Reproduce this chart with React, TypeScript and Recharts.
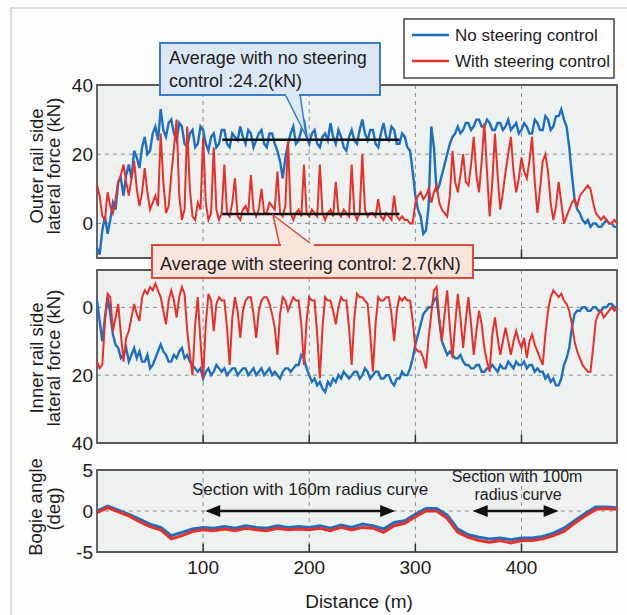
import React from 'react';
import {
  LineChart,
  Line,
  XAxis,
  YAxis,
  CartesianGrid,
  ReferenceLine,
  ReferenceArea,
} from 'recharts';

const FONT = '"Liberation Sans", Arial, Helvetica, sans-serif';
const BLUE = '#1f6fc1';
const RED = '#e8302b';
const INK = '#1c1c1c';
const PLOT_BG = '#edf2f0';
const FRAME = '#585858';
const GRID = '#8c8c8c';

const X_TICKS = [100, 200, 300, 400];

// distance (m), force panels, 2.5 m spacing
const DIST_FORCE = [
  0, 2.5, 5, 7.5, 10, 12.5, 15, 17.5, 20, 22.5, 25, 27.5, 30, 32.5, 35, 37.5, 40, 42.5, 45, 47.5,
  50, 52.5, 55, 57.5, 60, 62.5, 65, 67.5, 70, 72.5, 75, 77.5, 80, 82.5, 85, 87.5, 90, 92.5, 95, 97.5,
  100, 102.5, 105, 107.5, 110, 112.5, 115, 117.5, 120, 122.5, 125, 127.5, 130, 132.5, 135, 137.5, 140, 142.5, 145, 147.5,
  150, 152.5, 155, 157.5, 160, 162.5, 165, 167.5, 170, 172.5, 175, 177.5, 180, 182.5, 185, 187.5, 190, 192.5, 195, 197.5,
  200, 202.5, 205, 207.5, 210, 212.5, 215, 217.5, 220, 222.5, 225, 227.5, 230, 232.5, 235, 237.5, 240, 242.5, 245, 247.5,
  250, 252.5, 255, 257.5, 260, 262.5, 265, 267.5, 270, 272.5, 275, 277.5, 280, 282.5, 285, 287.5, 290, 292.5, 295, 297.5,
  300, 302.5, 305, 307.5, 310, 312.5, 315, 317.5, 320, 322.5, 325, 327.5, 330, 332.5, 335, 337.5, 340, 342.5, 345, 347.5,
  350, 352.5, 355, 357.5, 360, 362.5, 365, 367.5, 370, 372.5, 375, 377.5, 380, 382.5, 385, 387.5, 390, 392.5, 395, 397.5,
  400, 402.5, 405, 407.5, 410, 412.5, 415, 417.5, 420, 422.5, 425, 427.5, 430, 432.5, 435, 437.5, 440, 442.5, 445, 447.5,
  450, 452.5, 455, 457.5, 460, 462.5, 465, 467.5, 470, 472.5, 475, 477.5, 480, 482.5, 485, 487.5, 490,
];

// outer rail side lateral force (kN)
const TOP_NO = [
  -7, -9, -2, 2, -3, 1, 6, 4, 12, 13, 8, 14, 17, 13, 21, 19, 16, 22, 25, 20,
  21, 26, 28, 24, 33, 27, 25, 29, 30, 26, 24, 29, 28, 23, 22, 26, 27, 22, 23, 28,
  27, 23, 21, 25, 26, 22, 23, 27, 27, 23, 22, 26, 25, 24, 28, 25, 23, 27, 26, 22,
  24, 26, 27, 23, 22, 26, 26, 23, 21, 18, 13, 19, 23, 26, 28, 23, 24, 27, 30, 25,
  23, 26, 27, 23, 22, 25, 26, 24, 29, 25, 23, 27, 25, 22, 21, 25, 27, 24, 23, 27,
  30, 26, 24, 27, 27, 23, 22, 26, 29, 25, 24, 28, 27, 23, 23, 26, 25, 22, 21, 15,
  8, 4, 2, -3, -2, 5, 28, 22, 9, 11, 14, 17, 20, 23, 25, 26, 28, 26, 27, 29,
  29, 27, 28, 30, 30, 28, 28, 30, 29, 27, 27, 29, 29, 27, 28, 30, 27, 28, 29, 26,
  27, 29, 28, 26, 26, 30, 29, 27, 27, 31, 30, 27, 28, 31, 31, 33, 30, 28, 22, 14,
  7, 4, 3, 1, 0, 1, -1, 0, 0, -1, -1, 0, 1, 0, 0, -1, -1,
];
const TOP_WITH = [
  11, 8, 2, 1, 9, 5, 3, 7, 12, 14, 17, 12, 8, 13, 18, 10, 5, 9, 16, 9,
  4, 6, 8, 5, 26, 12, 3, 5, 14, 22, 30, 8, 1, 4, 28, 10, 2, 1, 6, 4,
  25, 6, 1, 3, 22, 4, 1, 3, 17, 3, 2, 6, 13, 2, 1, 4, 5, 3, 14, 4,
  2, 4, 10, 3, 3, 6, 5, 4, 15, 3, 2, 5, 24, 3, 1, 3, 4, 2, 17, 3,
  2, 4, 3, 2, 17, 3, 1, 3, 4, 2, 12, 3, 2, 4, 3, 2, 17, 3, 1, 3,
  20, 4, 2, 3, 3, 2, 7, 2, 1, 3, 2, 1, 8, 2, 1, 2, 1, 1, 0, 0,
  6, 8, 9, 7, 8, 10, 6, 9, 11, 6, 4, 3, 2, 8, 21, 12, 9, 14, 20, 12,
  11, 17, 25, 14, 9, 18, 29, 15, 2, 12, 26, 14, 4, 9, 15, 20, 25, 15, 9, 13,
  19, 15, 13, 18, 25, 12, 3, 10, 18, 20, 15, 6, 1, 5, 12, 6, 0, 2, 4, 6,
  7, 5, 8, 9, 10, 11, 10, 6, 3, 2, 1, 2, 1, 0, 0, 1, 0,
];

// inner rail side lateral force (kN)
const MID_NO = [
  -2, 4, 10, 3, -3, 2, 8, 11, 12, 15, 14, 12, 16, 14, 12, 15, 13, 16, 16, 14,
  18, 17, 15, 13, 11, 13, 14, 16, 16, 14, 15, 13, 12, 15, 14, 16, 17, 18, 19, 18,
  21, 19, 18, 20, 19, 17, 18, 19, 18, 20, 19, 18, 18, 20, 19, 18, 18, 20, 19, 18,
  20, 19, 18, 20, 19, 18, 20, 19, 20, 21, 19, 18, 18, 19, 18, 17, 17, 14, 15, 18,
  20, 22, 21, 23, 22, 24, 25, 22, 23, 21, 22, 20, 21, 19, 20, 21, 20, 19, 19, 21,
  20, 18, 19, 21, 20, 19, 19, 21, 21, 20, 20, 22, 23, 21, 21, 19, 20, 20, 18, 15,
  11, 8, 5, 2, 1, 0, 0, -2, -3, 4, 10, 12, 14, 13, 14, 15, 15, 14, 16, 17,
  17, 18, 18, 17, 17, 19, 19, 18, 18, 17, 18, 19, 17, 18, 18, 16, 17, 18, 16, 17,
  17, 16, 18, 17, 17, 19, 18, 19, 19, 21, 20, 22, 21, 23, 23, 21, 17, 15, 12, 6,
  2, 1, 1, 0, 0, 1, 1, 0, 0, 1, 1, 0, 0, -1, -1, 0, 0,
];
const MID_WITH = [
  16, 18, 17, 4, -4, -3, 7, 3, -1, 8, 16, 9, 7, 3, -1, 2, 4, -3, -5, -4,
  -6, -5, -7, -5, -3, 1, 5, -2, -5, -2, 3, -3, -6, -4, 7, 14, 20, 5, -3, 10,
  21, 5, -4, -2, 7, -1, -3, -2, -2, 6, 17, 3, -3, 1, 9, 1, -2, -3, -3, 2,
  9, 1, -2, -3, -3, -1, 2, 6, 14, 2, -3, -2, 1, -1, -3, -2, -2, 5, 17, 4,
  -3, -2, -2, 8, 21, 6, -3, -2, -2, 1, 5, 0, -3, -2, -2, 6, 17, 3, -4, -3,
  -3, -2, -1, 8, 19, 5, -3, -2, -2, -3, -3, 2, 10, 1, -3, -2, -3, -2, -2, 4,
  12, 13, 13, 15, 18, 9, 2, -5, -6, 3, 10, 2, -5, 6, 15, 5, -4, 3, 12, 4,
  -3, 5, 14, 7, 1, 5, 12, 16, 19, 8, 3, 9, 14, 10, 6, 10, 14, 10, 7, 10,
  12, 9, 15, 10, 8, 11, 13, 15, 17, 8, 1, -3, -5, -4, -3, -4, -2, -1, 1, 5,
  10, 13, 15, 17, 18, 19, 19, 12, 4, 2, 1, 3, 2, 1, 0, 1, 0,
];

// distance (m), bogie angle panel
const DIST_BOGIE = [
  0, 10, 20, 30, 40, 50, 60, 70, 80, 90,
  100, 110, 120, 130, 140, 150, 160, 170, 180, 190,
  200, 210, 220, 230, 240, 250, 260, 270, 280, 290,
  300, 310, 320, 330, 340, 350, 360, 370, 380, 390,
  400, 410, 420, 430, 440, 450, 460, 470, 480, 490,
];
const BOGIE_NO = [
  0, 0.6, 0.1, -0.4, -1, -1.6, -2, -3, -2.6, -2.2,
  -2, -2.1, -1.9, -2.1, -1.8, -2, -2.1, -1.8, -2, -1.9,
  -2, -1.8, -2.1, -1.7, -2, -1.6, -1.8, -2.2, -1.4, -1.2,
  -0.4, 0.3, 0.3, -0.5, -2.2, -2.9, -3.2, -3.4, -3.3, -3.5,
  -3.3, -3.3, -3.1, -2.7, -2.1, -1.2, -0.3, 0.5, 0.5, 0.4,
];
const BOGIE_WITH = [
  -0.2, 0.4, -0.1, -0.6, -1.3, -1.9, -2.3, -3.4, -3, -2.5,
  -2.3, -2.4, -2.2, -2.4, -2.1, -2.3, -2.4, -2.1, -2.3, -2.2,
  -2.3, -2.1, -2.4, -2, -2.3, -2, -2.1, -2.6, -1.8, -1.5,
  -0.7, 0, 0, -0.9, -2.6, -3.2, -3.6, -3.8, -3.6, -3.9,
  -3.6, -3.6, -3.4, -3, -2.5, -1.5, -0.6, 0.2, 0.3, 0.2,
];

// averages and marked sections
const AVG_NO = 24.2;
const AVG_WITH = 2.7;
const AVG_RANGE = [118, 285];
const CURVE_160 = [102, 281];
const CURVE_100 = [354, 435];

const forceData = DIST_FORCE.map((d, i) => ({
  d,
  topNo: TOP_NO[i],
  topWith: TOP_WITH[i],
  midNo: MID_NO[i],
  midWith: MID_WITH[i],
}));

const bogieData = DIST_BOGIE.map((d, i) => ({
  d,
  no: BOGIE_NO[i],
  with: BOGIE_WITH[i],
}));

const tickStyle = { fontSize: 19, fill: INK, fontFamily: FONT };
const MARGIN_L = 47;
const MARGIN_R = 10;
const Y_W = 50;

function arrowShape(p: any) {
  const { x1, y1, x2, y2 } = p;
  const h = 15;
  const w = 6;
  return (
    <g>
      <line x1={x1 + h - 2} y1={y1} x2={x2 - h + 2} y2={y2} stroke="#111" strokeWidth={2.5} />
      <polygon points={`${x1},${y1} ${x1 + h},${y1 - w} ${x1 + h},${y1 + w}`} fill="#111" />
      <polygon points={`${x2},${y2} ${x2 - h},${y2 - w} ${x2 - h},${y2 + w}`} fill="#111" />
    </g>
  );
}

function tickMarks(yFrom: number, yTo: number) {
  return X_TICKS.map((x) => (
    <ReferenceLine
      key={`tm${x}`}
      segment={[{ x, y: yFrom }, { x, y: yTo }]}
      stroke="#333"
      strokeWidth={1.5}
    />
  ));
}

export default function App() {
  return (
    <div
      style={{
        position: 'absolute',
        left: 0,
        top: 0,
        width: 627,
        height: 615,
        background: '#fdfdfb',
        fontFamily: FONT,
        overflow: 'hidden',
      }}
    >
      {/* Outer rail side */}
      <div style={{ position: 'absolute', left: 0, top: 0 }}>
        <LineChart
          width={627}
          height={262}
          data={forceData}
          margin={{ top: 85, right: MARGIN_R, bottom: 4, left: MARGIN_L }}
        >
          <CartesianGrid stroke={GRID} strokeDasharray="4 4" fill={PLOT_BG} fillOpacity={1} />
          <XAxis type="number" dataKey="d" domain={[0, 490]} ticks={X_TICKS} hide />
          <YAxis
            type="number"
            domain={[-10, 40]}
            ticks={[0, 20, 40]}
            width={Y_W}
            tick={tickStyle}
            tickLine={false}
            axisLine={false}
            tickSize={0}
            tickMargin={4}
            interval={0}
          />
          <Line dataKey="topNo" stroke={BLUE} strokeWidth={2.4} dot={false} isAnimationActive={false} />
          <Line dataKey="topWith" stroke={RED} strokeWidth={2} dot={false} isAnimationActive={false} />
          <ReferenceLine
            segment={[{ x: AVG_RANGE[0], y: AVG_NO }, { x: AVG_RANGE[1], y: AVG_NO }]}
            stroke="#111"
            strokeWidth={2.5}
          />
          <ReferenceLine
            segment={[{ x: AVG_RANGE[0], y: AVG_WITH }, { x: AVG_RANGE[1], y: AVG_WITH }]}
            stroke="#111"
            strokeWidth={2.5}
          />
          {tickMarks(-10, -7.5)}
          <ReferenceArea x1={0} x2={490} y1={-10} y2={40} fill="none" stroke={FRAME} strokeWidth={1.8} />
        </LineChart>
      </div>

      {/* Inner rail side */}
      <div style={{ position: 'absolute', left: 0, top: 262 }}>
        <LineChart
          width={627}
          height={196}
          data={forceData}
          margin={{ top: 8, right: MARGIN_R, bottom: 15, left: MARGIN_L }}
        >
          <CartesianGrid stroke={GRID} strokeDasharray="4 4" fill={PLOT_BG} fillOpacity={1} />
          <XAxis type="number" dataKey="d" domain={[0, 490]} ticks={X_TICKS} hide />
          <YAxis
            type="number"
            domain={[-11, 40]}
            reversed
            ticks={[0, 20, 40]}
            width={Y_W}
            tick={tickStyle}
            tickLine={false}
            axisLine={false}
            tickSize={0}
            tickMargin={4}
            interval={0}
          />
          <Line dataKey="midNo" stroke={BLUE} strokeWidth={2.4} dot={false} isAnimationActive={false} />
          <Line dataKey="midWith" stroke={RED} strokeWidth={2} dot={false} isAnimationActive={false} />
          {tickMarks(40, 37.5)}
          <ReferenceArea x1={0} x2={490} y1={-11} y2={40} fill="none" stroke={FRAME} strokeWidth={1.8} />
        </LineChart>
      </div>

      {/* Bogie angle */}
      <div style={{ position: 'absolute', left: 0, top: 452 }}>
        <LineChart
          width={627}
          height={163}
          data={bogieData}
          margin={{ top: 18, right: MARGIN_R, bottom: 0, left: MARGIN_L }}
        >
          <CartesianGrid stroke={GRID} strokeDasharray="4 4" fill={PLOT_BG} fillOpacity={1} />
          <XAxis
            type="number"
            dataKey="d"
            domain={[0, 490]}
            ticks={X_TICKS}
            height={63}
            tick={tickStyle}
            tickLine={false}
            axisLine={false}
            tickSize={0}
            tickMargin={9}
            interval={0}
          />
          <YAxis
            type="number"
            domain={[-5, 5]}
            ticks={[-5, 0, 5]}
            width={Y_W}
            tick={tickStyle}
            tickLine={false}
            axisLine={false}
            tickSize={0}
            tickMargin={4}
            interval={0}
          />
          <Line dataKey="no" stroke={BLUE} strokeWidth={3} dot={false} isAnimationActive={false} />
          <Line dataKey="with" stroke={RED} strokeWidth={3} dot={false} isAnimationActive={false} />
          <ReferenceLine
            segment={[{ x: CURVE_160[0], y: 0 }, { x: CURVE_160[1], y: 0 }]}
            shape={arrowShape}
          />
          <ReferenceLine
            segment={[{ x: CURVE_100[0], y: 0 }, { x: CURVE_100[1], y: 0 }]}
            shape={arrowShape}
          />
          {tickMarks(-5, -4)}
          <ReferenceArea x1={0} x2={490} y1={-5} y2={5} fill="none" stroke={FRAME} strokeWidth={1.8} />
        </LineChart>
      </div>

      {/* annotations, legend, titles */}
      <svg
        width={627}
        height={615}
        style={{ position: 'absolute', left: 0, top: 0, pointerEvents: 'none' }}
        fontFamily={FONT}
      >
        <rect x={11} y={8} width={630} height={620} fill="none" stroke="#d3d9c9" strokeWidth={1.5} />

        {/* legend */}
        <rect x={404} y={19} width={210} height={59} fill="#ffffff" stroke="#444" strokeWidth={1.5} />
        <line x1={412} y1={35} x2={449} y2={35} stroke={BLUE} strokeWidth={2.5} />
        <text x={455} y={41} fontSize={17} fill={INK}>No steering control</text>
        <line x1={412} y1={61} x2={449} y2={61} stroke={RED} strokeWidth={2.5} />
        <text x={455} y={67} fontSize={17} fill={INK}>With steering control</text>

        {/* average, no steering */}
        <polygon points="285,94 300,94 306,136" fill="#dce8f5" stroke="#3b7cc6" strokeWidth={1.5} />
        <rect x={160} y={43} width={220} height={52} fill="#dce8f5" stroke="#3b7cc6" strokeWidth={2} />
        <rect x={286} y={92} width={13} height={4} fill="#dce8f5" />
        <text x={169} y={64} fontSize={18} fill={INK}>Average with no steering</text>
        <text x={169} y={87} fontSize={18} fill={INK}>control :24.2(kN)</text>

        {/* average, with steering */}
        <polygon points="273,215 280,247 315,247" fill="#fbe4dc" stroke="#e04a3c" strokeWidth={1.5} />
        <rect x={152} y={245} width={321} height={33} fill="#fbe4dc" stroke="#e04a3c" strokeWidth={2} />
        <rect x={281} y={243} width={33} height={4} fill="#fbe4dc" />
        <text x={160} y={270} fontSize={18} fill={INK}>Average with steering control: 2.7(kN)</text>

        {/* section labels */}
        <text x={310} y={495} fontSize={17} fill={INK} textAnchor="middle">Section with 160m radius curve</text>
        <text x={517} y={482} fontSize={16} fill={INK} textAnchor="middle">Section with 100m</text>
        <text x={518} y={500} fontSize={16} fill={INK} textAnchor="middle">radius curve</text>

        {/* axis titles */}
        <text transform="translate(36,166) rotate(-90)" fontSize={18.5} fill={INK} textAnchor="middle" dominantBaseline="central">Outer rail side</text>
        <text transform="translate(53,166) rotate(-90)" fontSize={18.5} fill={INK} textAnchor="middle" dominantBaseline="central">lateral force (kN)</text>
        <text transform="translate(36,358) rotate(-90)" fontSize={18.5} fill={INK} textAnchor="middle" dominantBaseline="central">Inner rail side</text>
        <text transform="translate(53,358) rotate(-90)" fontSize={18.5} fill={INK} textAnchor="middle" dominantBaseline="central">lateral force (kN)</text>
        <text transform="translate(35,507) rotate(-90)" fontSize={18.5} fill={INK} textAnchor="middle" dominantBaseline="central">Bogie angle</text>
        <text transform="translate(53,509) rotate(-90)" fontSize={18.5} fill={INK} textAnchor="middle" dominantBaseline="central">(deg)</text>
        <text x={359} y={608} fontSize={19} fill={INK} textAnchor="middle">Distance (m)</text>
      </svg>
    </div>
  );
}
